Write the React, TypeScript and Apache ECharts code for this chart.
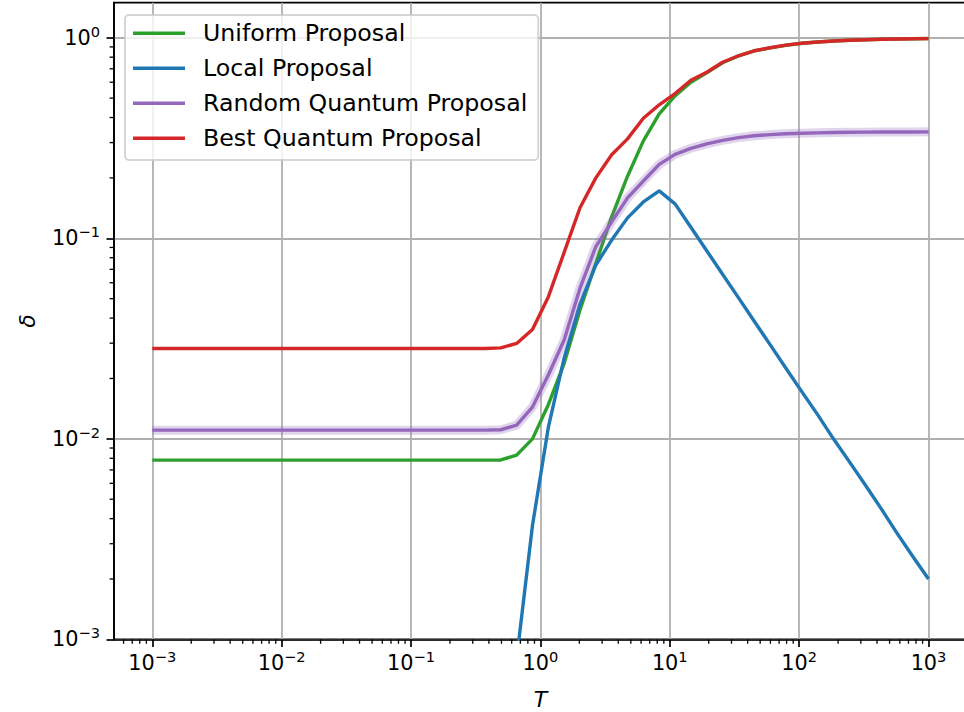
import React, { useEffect, useRef } from "react";
import * as echarts from "echarts";

// Temperature grid (T)
const T_VALUES = [
  0.001, 0.001326, 0.001758, 0.00233, 0.003089, 0.004095, 0.005429, 0.007197, 0.009541, 0.01265,
  0.01677, 0.02223, 0.02947, 0.03907, 0.05179, 0.06866, 0.09103, 0.1207, 0.16, 0.2121,
  0.2812, 0.3728, 0.4942, 0.6551, 0.8685, 1.1514, 1.5264, 2.0236, 2.6827, 3.5565,
  4.7149, 6.2506, 8.2864, 10.985, 14.563, 19.307, 25.595, 33.932, 44.984, 59.636,
  79.06, 104.81, 138.95, 184.21, 244.21, 323.75, 429.19, 568.99, 754.31, 1000,
];

const UNIFORM = [
  0.00783, 0.00783, 0.00783, 0.00783, 0.00783, 0.00783, 0.00783, 0.00783, 0.00783, 0.00783,
  0.00783, 0.00783, 0.00783, 0.00783, 0.00783, 0.00783, 0.00783, 0.00783, 0.00783, 0.00783,
  0.00783, 0.00783, 0.00785, 0.0083, 0.01, 0.0148, 0.0238, 0.0439, 0.0751, 0.128,
  0.204, 0.306, 0.417, 0.513, 0.6, 0.668, 0.75, 0.811, 0.86, 0.89,
  0.917, 0.938, 0.952, 0.963, 0.971, 0.977, 0.982, 0.986, 0.989, 0.992,
];

const LOCAL = [
  null, null, null, null, null, null, null, null, null, null,
  null, null, null, null, null, null, null, null, null, null,
  null, null, 0.00011, 0.0008, 0.0037, 0.0114, 0.0253, 0.047, 0.0736, 0.098,
  0.1264, 0.1518, 0.1723, 0.1484, 0.1135, 0.0867, 0.0662, 0.0506, 0.0386, 0.0295,
  0.0225, 0.0172, 0.0132, 0.01, 0.0077, 0.0059, 0.0045, 0.0034, 0.0026, 0.002,
];

const RANDOM_QUANTUM = [
  0.01105, 0.01105, 0.01105, 0.01105, 0.01105, 0.01105, 0.01105, 0.01105, 0.01105, 0.01105,
  0.01105, 0.01105, 0.01105, 0.01105, 0.01105, 0.01105, 0.01105, 0.01105, 0.01105, 0.01105,
  0.01105, 0.01105, 0.0111, 0.0117, 0.0144, 0.0208, 0.0311, 0.0564, 0.0909, 0.1208,
  0.159, 0.193, 0.2336, 0.262, 0.281, 0.2958, 0.3078, 0.3177, 0.3243, 0.3288,
  0.3318, 0.334, 0.3355, 0.337, 0.3378, 0.3382, 0.3386, 0.339, 0.339, 0.3394,
];

const BEST_QUANTUM = [
  0.0282, 0.0282, 0.0282, 0.0282, 0.0282, 0.0282, 0.0282, 0.0282, 0.0282, 0.0282,
  0.0282, 0.0282, 0.0282, 0.0282, 0.0282, 0.0282, 0.0282, 0.0282, 0.0282, 0.0282,
  0.0282, 0.0282, 0.0284, 0.0299, 0.0351, 0.051, 0.085, 0.142, 0.2, 0.261,
  0.313, 0.397, 0.463, 0.527, 0.614, 0.673, 0.7545, 0.813, 0.861, 0.891,
  0.918, 0.939, 0.952, 0.963, 0.971, 0.977, 0.982, 0.985, 0.988, 0.99,
];

const SERIES_NAMES = [
  "Uniform Proposal",
  "Local Proposal",
  "Random Quantum Proposal",
  "Best Quantum Proposal",
];

const X_MAJOR_TICKS = [0.001, 0.01, 0.1, 1, 10, 100, 1000];
const Y_MAJOR_TICKS = [0.001, 0.01, 0.1, 1];
const MINOR_MULTIPLES = [2, 3, 4, 5, 6, 7, 8, 9];

const X_MIN = 0.000506;
const X_MAX = 1977;
const Y_MIN = 0.001;
const Y_MAX = 1.495;

const FONT = "DejaVu Sans";

function pairs(ys: (number | null)[]) {
  return T_VALUES.map((t, i) => [t, ys[i]]);
}

function minorTicks(lo: number, hi: number) {
  const out: number[] = [];
  for (let e = -4; e <= 3; e++) {
    for (const m of MINOR_MULTIPLES) {
      const v = m * Math.pow(10, e);
      if (v > lo && v < hi) out.push(v);
    }
  }
  return out;
}

function powLabel(v: number) {
  const e = Math.round(Math.log10(v));
  const s = e < 0 ? "\u2212" + String(-e) : String(e);
  return "{b|10}{s|" + s + "}";
}

const labelRich = {
  b: { fontSize: 20.8, lineHeight: 28, fontFamily: FONT, color: "#000", verticalAlign: "middle" },
  s: { fontSize: 14.6, lineHeight: 14, fontFamily: FONT, color: "#000", verticalAlign: "top" },
};

export default function App() {
  const ref = useRef<HTMLDivElement>(null);

  useEffect(() => {
    if (!ref.current) return;
    const chart = echarts.init(ref.current, undefined, { renderer: "svg" });

    const colors = ["#2ca02c", "#1f77b4", "#9467bd", "#d62728"];
    const lineSeries = (name: string, data: any[], color: string, z: number) => ({
      type: "line",
      name,
      data,
      xAxisIndex: 0,
      yAxisIndex: 0,
      showSymbol: false,
      symbol: "none",
      color,
      itemStyle: { color },
      lineStyle: { color, width: 3.4, cap: "butt", join: "round" },
      z,
    });

    const xMinor = minorTicks(X_MIN, X_MAX);
    const yMinor = minorTicks(Y_MIN, Y_MAX);

    const option: any = {
      animation: false,
      backgroundColor: "#ffffff",
      textStyle: { fontFamily: FONT },
      grid: {
        left: 114,
        top: 2.7,
        right: -2.8,
        bottom: 72.6,
        show: true,
        borderColor: "#000",
        borderWidth: 1.7,
        backgroundColor: "transparent",
        containLabel: false,
        outerBoundsMode: "none",
      },
      legend: {
        data: SERIES_NAMES,
        orient: "vertical",
        left: 125,
        top: 15,
        icon: "rect",
        itemWidth: 52,
        itemHeight: 3.4,
        itemGap: 8,
        padding: [4.8, 11, 8.2, 8],
        backgroundColor: "rgba(255,255,255,0.8)",
        borderColor: "rgba(204,204,204,0.8)",
        borderWidth: 2,
        borderRadius: 4,
        selectedMode: false,
        textStyle: {
          fontFamily: FONT,
          fontSize: 23.7,
          lineHeight: 27,
          color: "#000",
          padding: [0, 0, 0, 13],
        },
      },
      xAxis: {
        type: "log",
        logBase: 10,
        min: X_MIN,
        max: X_MAX,
        name: "T",
        nameLocation: "middle",
        nameGap: 49,
        nameTextStyle: { fontFamily: FONT, fontStyle: "italic", fontSize: 22, color: "#000" },
        axisLine: { show: true, lineStyle: { color: "#000", width: 1.7 } },
        axisTick: {
          show: true,
          inside: false,
          length: 7.5,
          lineStyle: { color: "#000", width: 1.7 },
          customValues: X_MAJOR_TICKS,
        },
        axisLabel: {
          show: true,
          margin: 10,
          customValues: X_MAJOR_TICKS,
          formatter: (v: number) => powLabel(v),
          rich: labelRich,
        },
        splitLine: { show: true, lineStyle: { color: "#b0b0b0", width: 1.8 } },
        minorTick: { show: false },
        minorSplitLine: { show: false },
      },
      yAxis: {
        type: "log",
        logBase: 10,
        min: Y_MIN,
        max: Y_MAX,
        name: "\u03b4",
        nameLocation: "middle",
        nameGap: 76,
        nameRotate: 90,
        nameTextStyle: { fontFamily: FONT, fontStyle: "italic", fontSize: 22, color: "#000" },
        axisLine: { show: true, lineStyle: { color: "#000", width: 1.7 } },
        axisTick: {
          show: true,
          inside: false,
          length: 7.5,
          lineStyle: { color: "#000", width: 1.7 },
          customValues: Y_MAJOR_TICKS,
        },
        axisLabel: {
          show: true,
          margin: 14,
          customValues: Y_MAJOR_TICKS,
          formatter: (v: number) => powLabel(v),
          rich: labelRich,
        },
        splitLine: { show: true, lineStyle: { color: "#b0b0b0", width: 1.8 } },
        minorTick: { show: false },
        minorSplitLine: { show: false },
      },
      series: [
        lineSeries(SERIES_NAMES[0], pairs(UNIFORM), colors[0], 2),
        lineSeries(SERIES_NAMES[1], pairs(LOCAL), colors[1], 3),
        {
          type: "line",
          name: "Random Quantum band",
          data: pairs(RANDOM_QUANTUM),
          showSymbol: false,
          symbol: "none",
          silent: true,
          color: colors[2],
          lineStyle: { color: colors[2], width: 9, opacity: 0.28 },
          z: 4,
        },
        lineSeries(SERIES_NAMES[2], pairs(RANDOM_QUANTUM), colors[2], 5),
        lineSeries(SERIES_NAMES[3], pairs(BEST_QUANTUM), colors[3], 6),
        {
          type: "custom",
          name: "xMinorTicks",
          coordinateSystem: "cartesian2d",
          clip: false,
          silent: true,
          z: 10,
          data: xMinor.map((v) => [v, Y_MIN]),
          renderItem: (params: any, api: any) => {
            const p = api.coord([api.value(0), api.value(1)]);
            return {
              type: "line",
              shape: { x1: p[0], y1: p[1], x2: p[0], y2: p[1] + 4.4 },
              style: { stroke: "#000", lineWidth: 1.3 },
            };
          },
        },
        {
          type: "custom",
          name: "yMinorTicks",
          coordinateSystem: "cartesian2d",
          clip: false,
          silent: true,
          z: 10,
          data: yMinor.map((v) => [X_MIN, v]),
          renderItem: (params: any, api: any) => {
            const p = api.coord([api.value(0), api.value(1)]);
            return {
              type: "line",
              shape: { x1: p[0] - 4.4, y1: p[1], x2: p[0], y2: p[1] },
              style: { stroke: "#000", lineWidth: 1.3 },
            };
          },
        },
      ],
    };

    chart.setOption(option);
    return () => {
      chart.dispose();
    };
  }, []);

  return (
    <div
      ref={ref}
      style={{ position: "absolute", left: 0, top: 0, width: 964, height: 712, background: "#fff" }}
    />
  );
}
